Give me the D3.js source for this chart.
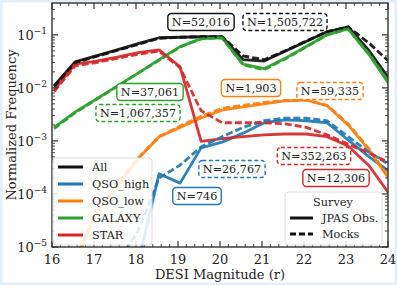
<!DOCTYPE html>
<html>
<head>
<meta charset="utf-8">
<script src="https://cdn.jsdelivr.net/npm/d3@7"></script>
<style>
  body { margin: 0; background: #fff; }
  text { font-family: "DejaVu Serif", serif; fill: #222; }
</style>
</head>
<body>
<script>
"use strict";

// Magnitude bin centres (DESI r)
let mags = [16.05, 16.55, 17.05, 17.55, 18.05, 18.55, 19.05, 19.55, 20.05, 20.55, 21.05, 21.55, 22.05, 22.55, 23.05, 23.55, 24.05];

// JPAS observed, normalized frequency per bin
let allObs     = [0.011, 0.031, 0.040, 0.052, 0.068, 0.088, 0.090, 0.092, 0.092, 0.034, 0.032, 0.049, 0.075, 0.114, 0.142, 0.050, 0.014];
let qsoHighObs = [1e-7, 1e-7, 1e-7, 1e-7, 5e-6, 2.4e-4, 1.6e-4, 7.4e-4, 9.5e-4, 0.0014, 0.0022, 0.0025, 0.0024, 0.0022, 0.00104, 5e-4, 2.6e-4];
let qsoLowObs  = [1e-5, 6e-6, 4.2e-5, 1.4e-4, 4.6e-4, 0.0012, 0.0018, 0.0027, 0.0038, 0.0044, 0.0050, 0.0057, 0.0059, 0.0046, 0.0020, 6.7e-4, 1.8e-4];
let galaxyObs  = [0.0018, 0.0035, 0.0061, 0.0108, 0.019, 0.034, 0.060, 0.085, 0.088, 0.028, 0.023, 0.036, 0.060, 0.10, 0.13, 0.042, 0.011];
let starObs    = [0.0091, 0.028, 0.032, 0.038, 0.046, 0.052, 0.025, 0.00098, 0.0011, 0.0012, 0.0013, 0.00135, 0.00135, 0.0012, 0.0008, 0.00034, 0.000095];

// Mocks
let allMock     = [0.0105, 0.030, 0.039, 0.051, 0.066, 0.086, 0.090, 0.092, 0.092, 0.040, 0.034, 0.050, 0.076, 0.115, 0.140, 0.070, 0.030];
let qsoHighMock = [1e-7, 1e-7, 1e-7, 5e-6, 2e-5, 2e-4, 3.5e-4, 7.7e-4, 0.0012, 0.0018, 0.0024, 0.0027, 0.0027, 0.0024, 0.0012, 6.1e-4, 3.5e-4];
let qsoLowMock  = [1e-5, 5e-6, 4.5e-5, 1.5e-4, 4.8e-4, 0.0012, 0.0019, 0.0029, 0.0041, 0.0047, 0.0053, 0.0058, 0.0059, 0.0047, 0.0021, 7e-4, 1.9e-4];
let galaxyMock  = [0.0017, 0.0034, 0.0060, 0.0106, 0.019, 0.033, 0.059, 0.084, 0.088, 0.027, 0.022, 0.035, 0.059, 0.10, 0.13, 0.044, 0.012];
let starMock    = [0.0085, 0.026, 0.030, 0.036, 0.043, 0.049, 0.024, 0.0037, 0.0022, 0.0022, 0.0022, 0.0021, 0.0018, 0.0013, 0.00087, 0.00059, 0.00038];

let classes = ["All", "QSO_high", "QSO_low", "GALAXY", "STAR"];
let colors  = ["#111111", "#1f77b4", "#ff7f0e", "#2ca02c", "#d62728"];
let obsSeries  = [allObs, qsoHighObs, qsoLowObs, galaxyObs, starObs];
let mockSeries = [allMock, qsoHighMock, qsoLowMock, galaxyMock, starMock];

// Counts shown in the boxes: [text, class index, isMock, cx, cy]
let counts = [
    ["N=52,016", 0, false, 201, 22],
    ["N=1,505,722", 0, true, 285, 22],
    ["N=37,061", 3, false, 150, 92],
    ["N=1,067,357", 3, true, 138, 113],
    ["N=1,903", 2, false, 251, 88],
    ["N=59,335", 2, true, 330, 91],
    ["N=746", 1, false, 197, 196],
    ["N=26,767", 1, true, 232, 169],
    ["N=352,263", 4, true, 314, 156],
    ["N=12,306", 4, false, 336, 178]
];

let xTicks = [16, 17, 18, 19, 20, 21, 22, 23, 24];
let yTicks = [1e-5, 1e-4, 1e-3, 1e-2, 1e-1];

let w = 397, h = 285;
let margin = {left: 52, right: 9, top: 3, bottom: 38};

let svg = d3.select("body").append("svg")
    .attr("width", w)
    .attr("height", h);

// faint blue frame round the figure
svg.append("rect")
    .attr("x", 1).attr("y", 1)
    .attr("width", w - 2).attr("height", h - 2)
    .attr("fill", "#fff")
    .attr("stroke", "#e3eef8")
    .attr("stroke-width", 3);

let x = d3.scaleLinear().domain([16, 24]).range([margin.left, w - margin.right]);
let y = d3.scaleLog().domain([1e-5, Math.pow(10, -0.4)]).range([h - margin.bottom, margin.top]);

svg.append("clipPath").attr("id", "plotclip")
    .append("rect")
    .attr("x", x(16)).attr("y", y.range()[1])
    .attr("width", x(24) - x(16)).attr("height", y.range()[0] - y.range()[1]);

let plot = svg.append("g").attr("clip-path", "url(#plotclip)");

let line = d3.line()
    .x((d, i) => x(mags[i]))
    .y(d => y(d));

obsSeries.forEach((s, k) => {
    plot.append("path")
        .attr("d", line(s))
        .attr("fill", "none")
        .attr("stroke", colors[k])
        .attr("stroke-width", 2.8)
        .attr("stroke-opacity", 0.92)
        .attr("stroke-linejoin", "round");
});
mockSeries.forEach((s, k) => {
    plot.append("path")
        .attr("d", line(s))
        .attr("fill", "none")
        .attr("stroke", colors[k])
        .attr("stroke-width", 2.8)
        .attr("stroke-opacity", 0.92)
        .attr("stroke-dasharray", "7,3");
});

// axes, ticks pointing inwards on all four sides
let minorX = d3.range(16, 24.01, 0.2);
let minorY = [];
for (let e = -5; e <= -1; e++) {
    for (let m = 2; m <= 9; m++) minorY.push(m * Math.pow(10, e));
}

let axisG = svg.append("g").attr("stroke", "#333");
let y0 = y.range()[0], y1 = y.range()[1];
let x0 = x(16), x1 = x(24);

minorX.forEach(v => {
    let big = Math.abs(v - Math.round(v)) < 1e-6;
    let len = big ? 6 : 3;
    axisG.append("line").attr("x1", x(v)).attr("x2", x(v)).attr("y1", y0).attr("y2", y0 - len).attr("stroke-width", big ? 1.2 : 0.9);
    axisG.append("line").attr("x1", x(v)).attr("x2", x(v)).attr("y1", y1).attr("y2", y1 + len).attr("stroke-width", big ? 1.2 : 0.9);
});
yTicks.concat(minorY).filter(v => v <= y.domain()[1]).forEach(v => {
    let big = yTicks.includes(v);
    let len = big ? 6 : 3;
    axisG.append("line").attr("x1", x0).attr("x2", x0 + len).attr("y1", y(v)).attr("y2", y(v)).attr("stroke-width", big ? 1.2 : 0.9);
    axisG.append("line").attr("x1", x1).attr("x2", x1 - len).attr("y1", y(v)).attr("y2", y(v)).attr("stroke-width", big ? 1.2 : 0.9);
});

svg.append("rect")
    .attr("x", x0).attr("y", y1)
    .attr("width", x1 - x0).attr("height", y0 - y1)
    .attr("fill", "none")
    .attr("stroke", "#333")
    .attr("stroke-width", 1.4);

svg.selectAll(".xt").data(xTicks).enter().append("text")
    .attr("x", d => x(d))
    .attr("y", y0 + 17)
    .attr("text-anchor", "middle")
    .attr("font-size", 13)
    .text(d => d);

let yt = svg.selectAll(".yt").data(yTicks).enter().append("text")
    .attr("x", x0 - 5)
    .attr("y", d => y(d) + 5)
    .attr("text-anchor", "end")
    .attr("font-size", 13);
yt.append("tspan").text("10");
yt.append("tspan").attr("dy", -6).attr("font-size", 9).text(d => "\u2212" + Math.round(-Math.log10(d)));

svg.append("text")
    .attr("x", (x0 + x1) / 2)
    .attr("y", h - 6)
    .attr("text-anchor", "middle")
    .attr("font-size", 13)
    .text("DESI Magnitude (r)");

svg.append("text")
    .attr("transform", `translate(16,${(y0 + y1) / 2}) rotate(-90)`)
    .attr("text-anchor", "middle")
    .attr("font-size", 13)
    .text("Normalized Frequency");

// count boxes
counts.forEach(c => {
    let g = svg.append("g");
    let t = g.append("text")
        .attr("x", c[3])
        .attr("y", c[4] + 4)
        .attr("text-anchor", "middle")
        .attr("font-size", 11.2)
        .text(c[0]);
    let bb = t.node().getBBox();
    g.insert("rect", "text")
        .attr("x", bb.x - 4).attr("y", c[4] - 8.5)
        .attr("width", bb.width + 8).attr("height", 17)
        .attr("rx", 3.5)
        .attr("fill", "#fff")
        .attr("stroke", colors[c[1]])
        .attr("stroke-width", 1.4)
        .attr("stroke-dasharray", c[2] ? "4,2.5" : null);
});

// class legend
let leg = svg.append("g");
leg.append("rect")
    .attr("x", 53).attr("y", 158).attr("width", 99).attr("height", 87)
    .attr("rx", 3)
    .attr("fill", "#fff").attr("fill-opacity", 0.85)
    .attr("stroke", "#ddd");
classes.forEach((c, i) => {
    let ly = 167 + i * 17;
    leg.append("line").attr("x1", 58).attr("x2", 83).attr("y1", ly).attr("y2", ly)
        .attr("stroke", colors[i]).attr("stroke-width", 3);
    leg.append("text").attr("x", 92).attr("y", ly + 4).attr("font-size", 11.3).text(c);
});

// survey legend
let leg2 = svg.append("g");
leg2.append("rect")
    .attr("x", 285).attr("y", 192).attr("width", 97).attr("height", 53)
    .attr("rx", 3)
    .attr("fill", "#fff").attr("fill-opacity", 0.85)
    .attr("stroke", "#ddd");
leg2.append("text").attr("x", 333).attr("y", 206).attr("text-anchor", "middle").attr("font-size", 11.3).text("Survey");
[["JPAS Obs.", null], ["Mocks", "6,3"]].forEach((s, i) => {
    let ly = 218 + i * 16;
    leg2.append("line").attr("x1", 290).attr("x2", 313).attr("y1", ly).attr("y2", ly)
        .attr("stroke", "#111").attr("stroke-width", 3).attr("stroke-dasharray", s[1]);
    leg2.append("text").attr("x", 322).attr("y", ly + 4).attr("font-size", 11.3).text(s[0]);
});
</script>
</body>
</html>
